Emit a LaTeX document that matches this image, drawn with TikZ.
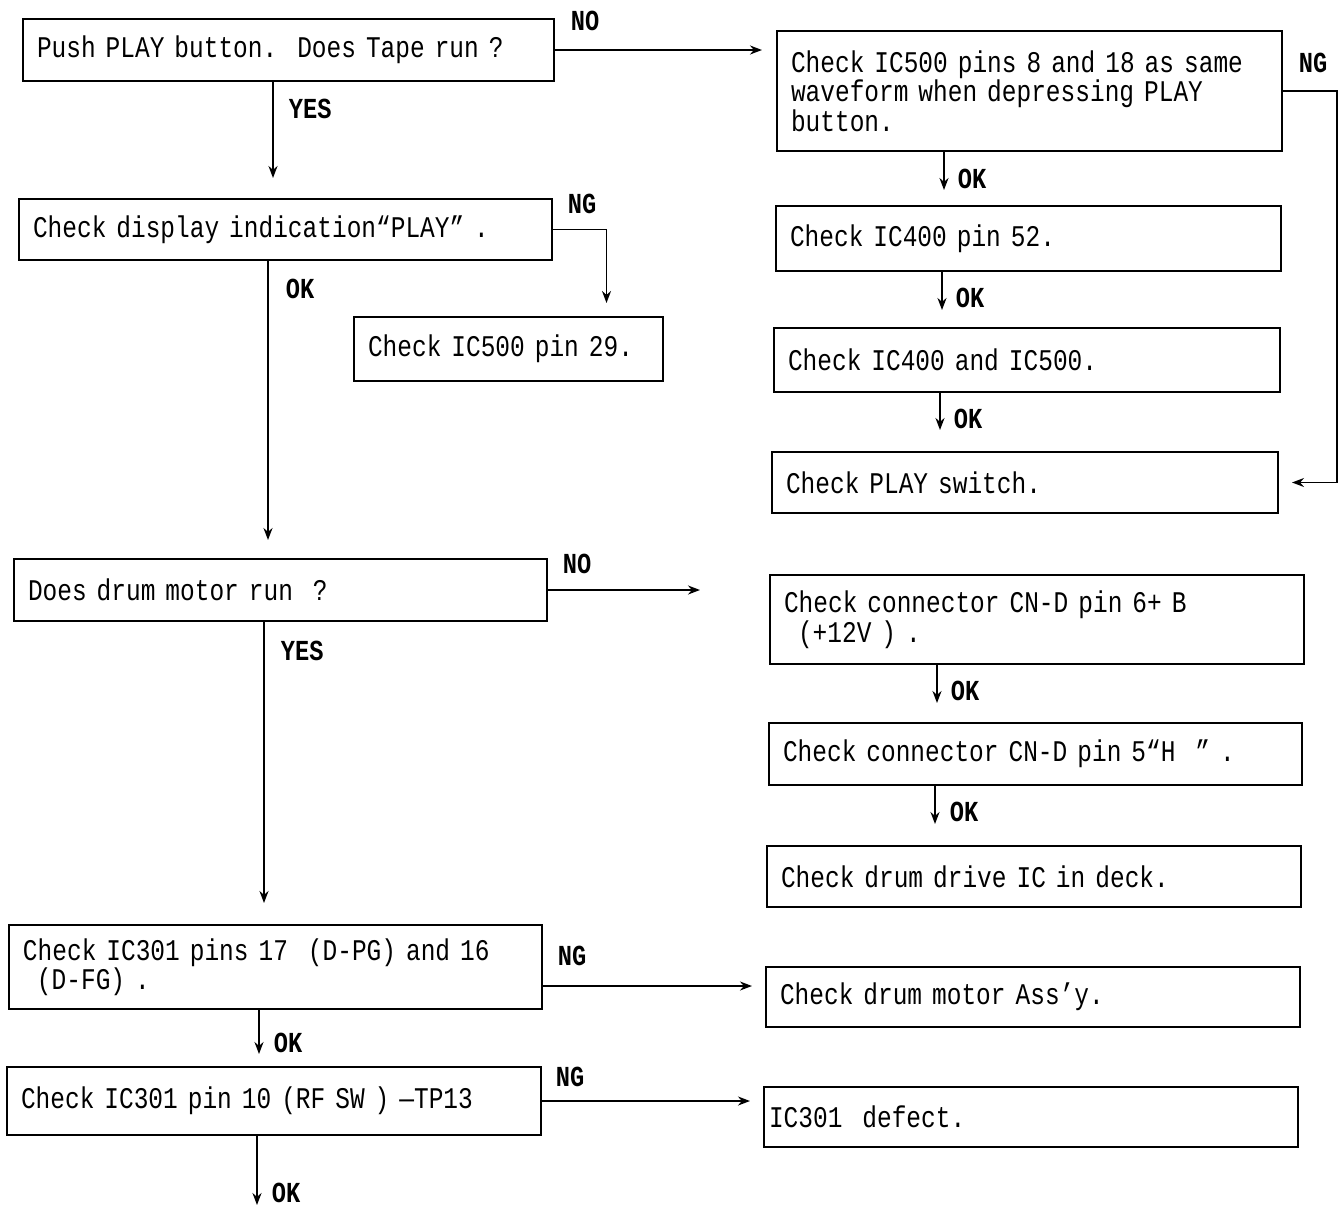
\documentclass[tikz,border=0pt]{standalone}
\usepackage{fontspec}
\setmainfont[FakeStretch=0.816]{Liberation Mono}
\usepackage{tikz}
\usetikzlibrary{arrows.meta, positioning, calc}

\newcommand{\boxfont}{\fontsize{30}{29.5}\selectfont\setlength{\lineskiplimit}{-20pt}}

\begin{document}
\begin{tikzpicture}[
    x=1pt, y=-1pt,
    box/.style={rectangle, draw=black, line width=2pt, anchor=north west,
                align=left, inner xsep=14pt, inner ysep=0pt, font=\boxfont},
    arrow/.style={-{Stealth[length=12pt, width=9pt]}, line width=1.8pt},
    tag/.style={anchor=west, inner sep=0pt, font=\fontsize{29}{29}\selectfont\bfseries}
]
    \useasboundingbox (0,0) rectangle (1339,1208);

    % left column
    \node[box, text width=503pt, minimum height=62pt] (push) at (22,18) {Push PLAY button.~~Does Tape run~?};
    \node[box, text width=505pt, minimum height=61pt] (disp) at (18,198) {Check display indication“PLAY”~.};
    \node[box, text width=281pt, minimum height=64pt] (ic29) at (353,316) {Check IC500 pin 29.};
    \node[box, text width=505pt, minimum height=62pt] (drum) at (13,558) {Does drum motor run~~?};
    \node[box, text width=505pt, minimum height=84pt] (ic17) at (8,924) {Check IC301 pins 17~~(D-PG) and 16\\\hspace*{14pt}(D-FG)~.};
    \node[box, text width=506pt, minimum height=68pt] (rfsw) at (6,1066) {Check IC301 pin 10 (RF SW~)~—TP13};

    % right column
    \node[box, text width=477pt, minimum height=120pt] (chk) at (776,30) {Check IC500 pins 8 and 18 as same\\waveform when depressing PLAY\\button.};
    \node[box, text width=477pt, minimum height=65pt] (pin) at (775,205) {Check IC400 pin 52.};
    \node[box, text width=478pt, minimum height=64pt] (both) at (773,327) {Check IC400 and IC500.};
    \node[box, text width=478pt, minimum height=61pt] (sw) at (771,451) {Check PLAY switch.};
    \node[box, text width=506pt, minimum height=89pt] (cnb) at (769,574) {Check connector CN-D pin 6+ B\\\hspace*{14pt}(+12V~)~.};
    \node[box, text width=505pt, minimum height=62pt] (cnh) at (768,722) {Check connector CN-D pin 5“H~~”~.};
    \node[box, text width=506pt, minimum height=61pt] (deck) at (766,845) {Check drum drive IC in deck.};
    \node[box, text width=506pt, minimum height=60pt] (motor) at (765,966) {Check drum motor Ass’y.};
    \node[box, text width=524pt, minimum height=60pt, inner xsep=5pt] (defect) at (763,1086) {IC301~~defect.};

    \coordinate (out) at (257,1205);

    % tape run
    \draw[arrow, shorten >=20pt] ([xshift=251pt]push.south west) -- ([xshift=255pt]disp.north west)
        node[tag, pos=0.23, right=15pt] {YES};
    \draw[arrow, shorten >=14pt] (push.east) node[tag, xshift=15pt, yshift=29pt] {NO} -- (push.east -| chk.west);
    \draw[arrow, shorten >=13pt] (chk.east) node[tag, xshift=15pt, yshift=28pt] {NG} -- ++(54,0) |- (sw.east);
    \draw[arrow, shorten >=15pt] ([xshift=168pt]chk.south west) -- ([xshift=169pt]pin.north west)
        node[tag, pos=0.5, right=13pt] {OK};
    \draw[arrow, shorten >=17pt] ([xshift=167pt]pin.south west) -- ([xshift=169pt]both.north west)
        node[tag, pos=0.47, right=13pt] {OK};
    \draw[arrow, shorten >=21pt] ([xshift=167pt]both.south west) -- ([xshift=169pt]sw.north west)
        node[tag, pos=0.45, right=13pt] {OK};

    % display
    \draw[arrow, shorten >=13pt] (disp.east) node[tag, xshift=14pt, yshift=26pt] {NG} -| ([xshift=98pt]ic29.north);
    \draw[arrow, shorten >=18pt] ([xshift=250pt]disp.south west) -- ([xshift=255pt]drum.north west)
        node[tag, pos=0.094, right=17pt] {OK};

    % drum motor
    \draw[arrow, shorten >=69pt] (drum.east) node[tag, xshift=14pt, yshift=26pt] {NO} -- (drum.east -| cnb.west);
    \draw[arrow, shorten >=21pt] ([xshift=251pt]drum.south west) -- ([xshift=256pt]ic17.north west)
        node[tag, pos=0.095, right=16pt] {YES};
    \draw[arrow, shorten >=19pt] ([xshift=168pt]cnb.south west) -- ([xshift=169pt]cnh.north west)
        node[tag, pos=0.46, right=13pt] {OK};
    \draw[arrow, shorten >=21pt] ([xshift=167pt]cnh.south west) -- ([xshift=169pt]deck.north west)
        node[tag, pos=0.44, right=14pt] {OK};

    % IC301
    \draw[arrow, shorten >=13pt] ([yshift=-19pt]ic17.east) node[tag, xshift=14pt, yshift=30pt] {NG}
        -- ([yshift=-19pt]ic17.east -| motor.west);
    \draw[arrow, shorten >=12pt] ([xshift=251pt]ic17.south west) -- ([xshift=253pt]rfsw.north west)
        node[tag, pos=0.59, right=14pt] {OK};
    \draw[arrow, shorten >=13pt] (rfsw.east) node[tag, xshift=13pt, yshift=24pt] {NG} -- (rfsw.east -| defect.west);
    \draw[arrow] ([xshift=251pt]rfsw.south west) -- (out)
        node[tag, pos=0.82, right=14pt] {OK};
\end{tikzpicture}
\end{document}
